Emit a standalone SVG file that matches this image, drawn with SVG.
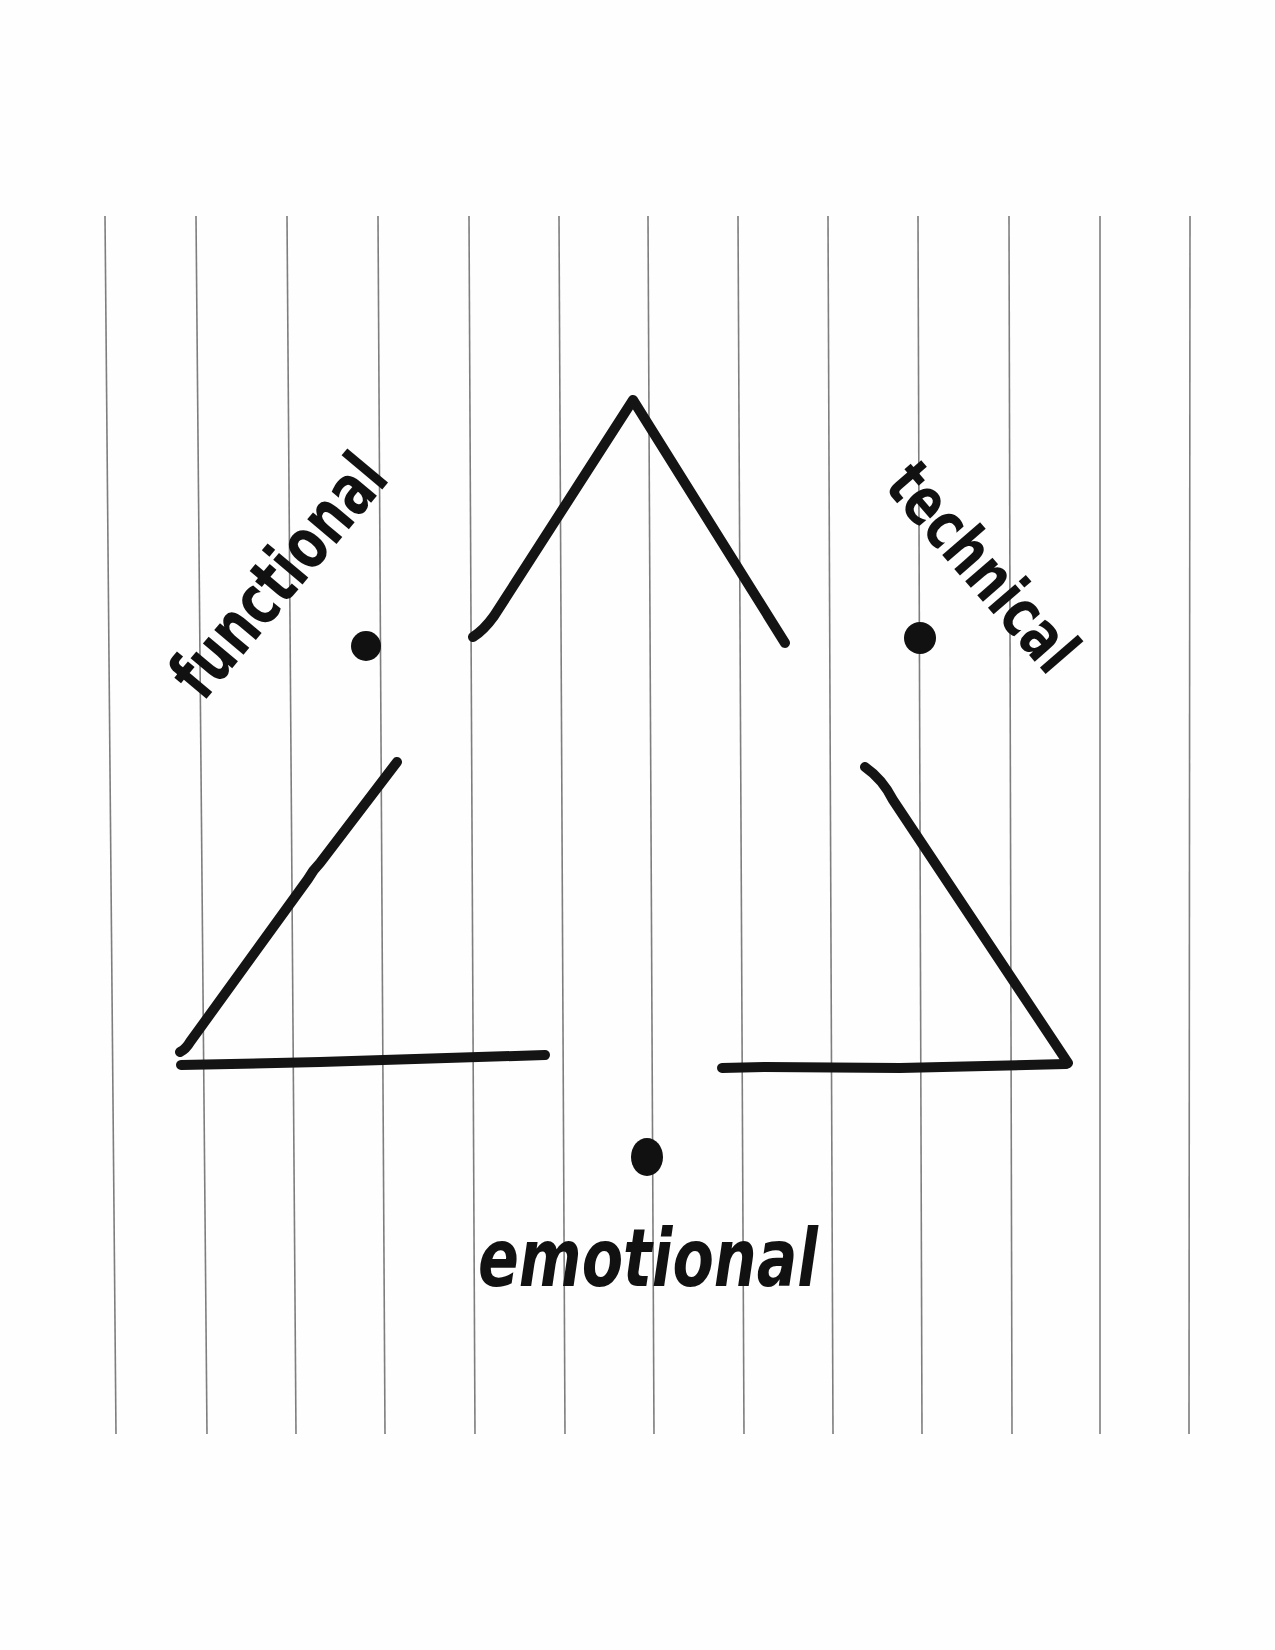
<svg xmlns="http://www.w3.org/2000/svg" width="1275" height="1650" viewBox="0 0 1275 1650">
  <style>
    .rule { stroke: #7e7e7e; stroke-width: 1.6; fill: none; }
    .ink { stroke: #141414; stroke-width: 10; fill: none; stroke-linecap: round; stroke-linejoin: round; }
    .dot { fill: #111; }
    .label { font-family: "DejaVu Sans Condensed", "DejaVu Sans", sans-serif; font-weight: bold; fill: #111; }
  </style>

  <!-- paper -->
  <rect x="0" y="0" width="1275" height="1650" fill="#fefefe"/>

  <!-- ruled notebook lines -->
  <g id="rules" class="rule">
    <line x1="105" y1="216" x2="116" y2="1434"/>
    <line x1="196" y1="216" x2="207" y2="1434"/>
    <line x1="287" y1="216" x2="296" y2="1434"/>
    <line x1="378" y1="216" x2="385" y2="1434"/>
    <line x1="469" y1="216" x2="475" y2="1434"/>
    <line x1="559" y1="216" x2="565" y2="1434"/>
    <line x1="648" y1="216" x2="654" y2="1434"/>
    <line x1="738" y1="216" x2="744" y2="1434"/>
    <line x1="828" y1="216" x2="833" y2="1434"/>
    <line x1="918" y1="216" x2="922" y2="1434"/>
    <line x1="1009" y1="216" x2="1012" y2="1434"/>
    <line x1="1100" y1="216" x2="1100" y2="1434"/>
    <line x1="1190" y1="216" x2="1189" y2="1434"/>
  </g>

  <!-- triangle edges, drawn as broken marker strokes -->
  <g id="connectors" class="ink">
    <path id="edge-top" d="M473,637 Q484,630 494,616 L633,400 L785,643"/>
    <path id="edge-left" d="M397,762 L320,863 Q313,870 308,879 L190,1042 Q186,1049 180,1052"/>
    <path id="edge-bottom-left" d="M181,1065 L320,1062 L545,1055"/>
    <path id="edge-right" d="M865,767 C878,776 886,786 893,800 L1068,1063"/>
    <path id="edge-bottom-right" d="M722,1068 L765,1067 L900,1068 L1066,1064"/>
  </g>

  <!-- corner nodes: dot plus handwritten label -->
  <g id="node-functional">
    <circle class="dot" cx="366" cy="646" r="15"/>
    <text class="label" transform="translate(203,703) rotate(-50)" font-size="70" textLength="292" lengthAdjust="spacingAndGlyphs">functional</text>
  </g>

  <g id="node-technical">
    <circle class="dot" cx="920" cy="638" r="16"/>
    <text class="label" transform="translate(883,487) rotate(49)" font-size="66" textLength="252" lengthAdjust="spacingAndGlyphs">technical</text>
  </g>

  <g id="node-emotional">
    <ellipse class="dot" cx="647" cy="1157" rx="16" ry="19"/>
    <text class="label" x="478" y="1286" font-size="80" font-style="italic" textLength="340" lengthAdjust="spacingAndGlyphs">emotional</text>
  </g>
</svg>
